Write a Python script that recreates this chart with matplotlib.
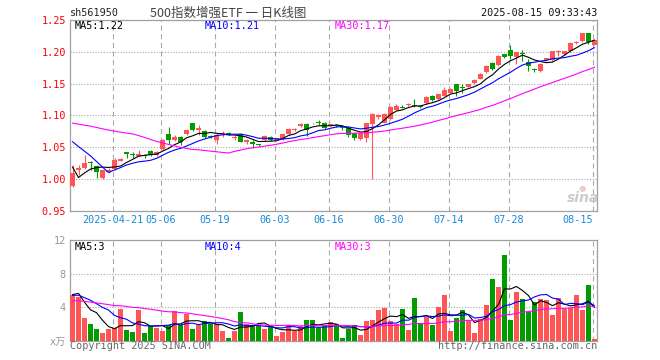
import matplotlib
matplotlib.use('Agg')
import matplotlib.pyplot as plt
import numpy as np
import pandas as pd

plt.rcParams['lines.scale_dashes'] = False
MONO = ['DejaVu Sans Mono', 'Noto Sans CJK SC']
CJK = ['Noto Sans CJK SC', 'DejaVu Sans']

# ---------------- data ----------------
dates = (['04-10', '04-11', '04-14', '04-15', '04-16', '04-17', '04-18', '04-21', '04-22', '04-23',
          '04-24', '04-25', '04-28', '04-29', '04-30'] +
         ['05-06', '05-07', '05-08', '05-09', '05-12', '05-13', '05-14', '05-15', '05-16', '05-19',
          '05-20', '05-21', '05-22', '05-23', '05-26', '05-27', '05-28', '05-29', '05-30'] +
         ['06-03', '06-04', '06-05', '06-06', '06-09', '06-10', '06-11', '06-12', '06-13', '06-16',
          '06-17', '06-18', '06-19', '06-20', '06-23', '06-24', '06-25', '06-26', '06-27', '06-30'] +
         ['07-01', '07-02', '07-03', '07-04', '07-07', '07-08', '07-09', '07-10', '07-11', '07-14',
          '07-15', '07-16', '07-17', '07-18', '07-21', '07-22', '07-23', '07-24', '07-25', '07-28',
          '07-29', '07-30', '07-31'] +
         ['08-01', '08-04', '08-05', '08-06', '08-07', '08-08', '08-11', '08-12', '08-13', '08-14',
          '08-15'])

# closes before the visible window (only feed the moving averages)
hist_close = [1.068, 1.072, 1.070, 1.075, 1.078, 1.074, 1.079, 1.081, 1.080, 1.080,
              1.118, 1.125, 1.132, 1.136, 1.134, 1.131, 1.135, 1.130, 1.128, 1.126,
              1.095, 1.097, 1.099, 1.100, 1.102, 1.100, 0.990, 0.995, 1.000]

open_ = [0.990, 1.014, 1.018, 1.027, 1.021, 1.002, 1.011, 1.016, 1.029, 1.042,
         1.040, 1.037, 1.038, 1.045, 1.038, 1.047, 1.071, 1.062, 1.067, 1.071,
         1.088, 1.077, 1.076, 1.068, 1.062, 1.071, 1.073, 1.064, 1.071, 1.058,
         1.058, 1.0545, 1.061, 1.067, 1.062, 1.063, 1.071, 1.077, 1.084, 1.086,
         1.0885, 1.090, 1.089, 1.084, 1.085, 1.082, 1.080, 1.073, 1.063, 1.064,
         1.086, 1.098, 1.089, 1.094, 1.109, 1.114, 1.1165, 1.117, 1.115, 1.119,
         1.1306, 1.1255, 1.131, 1.136, 1.149, 1.1445, 1.145, 1.1516, 1.158, 1.168,
         1.183, 1.1786, 1.196, 1.2036, 1.192, 1.1975, 1.1835, 1.173, 1.170, 1.187,
         1.187, 1.1995, 1.1965, 1.201, 1.2135, 1.217, 1.2297, 1.211]
high = [1.022, 1.022, 1.038, 1.028, 1.023, 1.015, 1.017, 1.033, 1.033, 1.043,
        1.042, 1.046, 1.040, 1.046, 1.044, 1.063, 1.082, 1.070, 1.068, 1.079,
        1.089, 1.085, 1.078, 1.069, 1.072, 1.075, 1.074, 1.070, 1.072, 1.063,
        1.061, 1.056, 1.070, 1.068, 1.065, 1.072, 1.080, 1.080, 1.089, 1.088,
        1.089, 1.093, 1.090, 1.087, 1.086, 1.085, 1.083, 1.074, 1.073, 1.089,
        1.104, 1.103, 1.104, 1.115, 1.118, 1.116, 1.120, 1.1266, 1.116, 1.130,
        1.132, 1.134, 1.144, 1.143, 1.150, 1.149, 1.150, 1.157, 1.166, 1.179,
        1.184, 1.195, 1.197, 1.2114, 1.200, 1.2036, 1.1887, 1.175, 1.182, 1.191,
        1.202, 1.203, 1.202, 1.215, 1.217, 1.230, 1.230, 1.2195]
low = [0.988, 1.007, 1.016, 1.014, 1.002, 1.000, 1.009, 1.015, 1.028, 1.034,
       1.034, 1.036, 1.034, 1.036, 1.037, 1.046, 1.056, 1.060, 1.054, 1.069,
       1.076, 1.070, 1.065, 1.065, 1.056, 1.067, 1.070, 1.062, 1.058, 1.055,
       1.049, 1.052, 1.060, 1.060, 1.061, 1.062, 1.070, 1.076, 1.082, 1.068,
       1.086, 1.085, 1.079, 1.083, 1.082, 1.077, 1.066, 1.062, 1.061, 1.059,
       1.000, 1.095, 1.088, 1.093, 1.108, 1.111, 1.115, 1.113, 1.112, 1.118,
       1.123, 1.124, 1.130, 1.135, 1.130, 1.136, 1.144, 1.150, 1.157, 1.167,
       1.171, 1.177, 1.190, 1.188, 1.181, 1.185, 1.1697, 1.168, 1.169, 1.185,
       1.186, 1.193, 1.195, 1.200, 1.212, 1.216, 1.213, 1.210]
close = [1.010, 1.018, 1.026, 1.025, 1.012, 1.014, 1.015, 1.030, 1.032, 1.040,
         1.038, 1.040, 1.037, 1.038, 1.043, 1.062, 1.061, 1.067, 1.058, 1.077,
         1.077, 1.080, 1.067, 1.066, 1.070, 1.073, 1.071, 1.067, 1.059, 1.061,
         1.055, 1.0535, 1.068, 1.061, 1.064, 1.071, 1.0795, 1.079, 1.087, 1.077,
         1.0875, 1.0885, 1.080, 1.086, 1.084, 1.080, 1.070, 1.064, 1.072, 1.088,
         1.103, 1.100, 1.103, 1.114, 1.115, 1.1125, 1.118, 1.1155, 1.114, 1.129,
         1.1245, 1.133, 1.140, 1.142, 1.138, 1.1425, 1.149, 1.155, 1.1645, 1.178,
         1.173, 1.194, 1.192, 1.193, 1.199, 1.196, 1.177, 1.171, 1.181, 1.190,
         1.2009, 1.2005, 1.201, 1.214, 1.2155, 1.229, 1.2155, 1.218]

# volumes (x10k lots); history only feeds the moving averages
hist_volume = [4.8, 5.2, 4.6, 4.1, 3.9, 4.5, 5.0, 4.2, 3.8, 4.3,
               4.7, 4.4, 4.0, 4.6, 4.9, 4.2, 3.9, 4.5, 4.5, 4.4,
               5.0, 5.6, 5.2, 5.4, 5.3, 4.5, 8.0, 6.5, 3.1]
volume = [5.4, 5.2, 2.7, 2.0, 1.4, 0.9, 1.4, 1.5, 3.8, 1.3,
          1.0, 3.7, 0.9, 1.7, 1.5, 1.2, 1.9, 3.5, 1.9, 3.2,
          1.4, 1.9, 2.4, 2.0, 2.0, 1.2, 0.3, 1.2, 3.4, 2.0,
          1.8, 1.9, 1.4, 1.6, 0.6, 1.0, 1.9, 1.1, 1.8, 2.5,
          2.5, 1.5, 1.7, 2.2, 2.0, 0.3, 1.4, 1.9, 0.7, 2.4,
          2.5, 3.6, 3.9, 2.3, 2.0, 3.8, 1.3, 5.1, 2.1, 2.8,
          1.9, 4.0, 5.5, 1.2, 2.7, 3.6, 2.4, 0.9, 2.6, 4.3,
          7.4, 6.4, 10.2, 2.5, 5.8, 5.0, 3.4, 4.6, 5.0, 4.8,
          3.1, 5.1, 3.8, 3.9, 5.5, 3.7, 6.6, 0.2]

tick_dates = ['04-21', '05-06', '05-19', '06-03', '06-16', '06-30', '07-14', '07-28', '08-15']
tick_labels = ['2025-04-21', '05-06', '05-19', '06-03', '06-16', '06-30', '07-14', '07-28', '08-15']
price_ticks = [0.95, 1.00, 1.05, 1.10, 1.15, 1.20, 1.25]
vol_ticks = [0, 4, 8, 12]
vol_tick_labels = ['x万', '4', '8', '12']

code = 'sh561950'
title = '500指数增强ETF 一 日K线图'
stamp = '2025-08-15 09:33:43'
price_ma_labels = ['MA5:1.22', 'MA10:1.21', 'MA30:1.17']
vol_ma_labels = ['MA5:3', 'MA10:4', 'MA30:3']

# ---------------- derived ----------------
o = np.array(open_); h = np.array(high); l = np.array(low); c = np.array(close)
v = np.array(volume)
n = len(c)
x = np.arange(n)
RED, GREEN = '#ff5555', '#009c00'
cols = [RED if cc >= oo else GREEN for oo, cc in zip(o, c)]

nh = len(hist_close)
cs = pd.Series(hist_close + close)
ma = {k: cs.rolling(k).mean().values[nh:] for k in (5, 10, 30)}
nhv = len(hist_volume)
vs = pd.Series(hist_volume + volume)
vma = {k: vs.rolling(k).mean().values[nhv:] for k in (5, 10, 30)}
ma_cols = {5: 'black', 10: '#0000ff', 30: '#ff00ff'}

W, H = 660, 360
fig = plt.figure(figsize=(W / 100, H / 100), dpi=100)
L, R = 70, 597
ax = fig.add_axes([L / W, 1 - 211 / H, (R - L) / W, (211 - 20) / H])
axv = fig.add_axes([L / W, 1 - 340.7 / H, (R - L) / W, (340.7 - 240) / H])

GRID = '#aaaaaa'
FRAME = '#a0a0a0'
tick_pos = [dates.index(d) - 0.3 for d in tick_dates]

for a in (ax, axv):
    a.set_xlim(-0.42, n - 0.58)
    for s in a.spines.values():
        s.set_color(FRAME)
        s.set_linewidth(0.9)
    a.set_xticks(tick_pos)
    a.grid(axis='x', color=GRID, linestyle=(0, (3.6, 2.6)), linewidth=0.8)
    a.grid(axis='y', color=GRID, linestyle=(0, (0.8, 1.2)), linewidth=0.8)
    a.tick_params(length=0)
    a.set_axisbelow(True)

# candles
ax.vlines(x, l, h, colors=cols, linewidth=0.8, zorder=2)
body_lo = np.minimum(o, c)
body_h = np.maximum(np.abs(c - o), 0.0015)
ax.bar(x, body_h, bottom=body_lo, width=0.8, color=cols, linewidth=0, zorder=3)
for k in (5, 10, 30):
    ax.plot(x, ma[k], color=ma_cols[k], linewidth=0.8, zorder=4)

ax.set_ylim(0.95, 1.25)
ax.set_yticks(price_ticks)
ax.set_yticklabels([f'{t:.2f}' for t in price_ticks], color='#ff0000',
                   family=MONO, fontsize=7.3)
ax.tick_params(axis='y', pad=3)
ax.set_xticklabels(tick_labels, color='#1a8ad8', family=MONO, fontsize=7.3)
ax.tick_params(axis='x', pad=3)
xl = ax.get_xticklabels()
xl[-1].set_ha('right')

# volume
axv.bar(x, v, width=0.8, color=cols, linewidth=0, zorder=3)
for k in (5, 10, 30):
    axv.plot(x, vma[k], color=ma_cols[k], linewidth=0.8, zorder=4)
axv.set_ylim(0, 12)
axv.set_yticks(vol_ticks)
axv.set_yticklabels(vol_tick_labels, color='#999999', family=MONO, fontsize=7.3)
axv.tick_params(axis='y', pad=3)
axv.set_xticklabels([])

# texts
def ftxt(px, py, s, **kw):
    fig.text(px / W, 1 - py / H, s, **kw)

ftxt(70, 13, code, ha='left', va='center', family=MONO, fontsize=7.3, color='#222222')
ftxt(150, 13, title, ha='left', va='center', family=CJK, fontsize=9, color='#444444')
ftxt(597, 13, stamp, ha='right', va='center', family=MONO, fontsize=7.3, color='#111111')

for px, s, k in zip((75, 205, 335), price_ma_labels, (5, 10, 30)):
    ftxt(px, 26, s, ha='left', va='center', family=MONO, fontsize=7.3, color=ma_cols[k])
for px, s, k in zip((75, 205, 335), vol_ma_labels, (5, 10, 30)):
    ftxt(px, 247, s, ha='left', va='center', family=MONO, fontsize=7.3, color=ma_cols[k])

ftxt(70, 346, 'Copyright 2025 SINA.COM', ha='left', va='center', family=MONO,
     fontsize=7.3, color='#666666')
ftxt(597, 346, 'http://finance.sina.com.cn', ha='right', va='center', family=MONO,
     fontsize=7.3, color='#666666')

# sina watermark
ftxt(583, 198, 'sina', ha='center', va='center', fontsize=10, fontweight='bold',
     style='italic', color='#cccccc', family='DejaVu Sans')
ftxt(582, 188, '●', ha='center', va='center', fontsize=6, color='#f2c8c8',
     family='DejaVu Sans')

fig.savefig('out.png', dpi=100, facecolor='white')
